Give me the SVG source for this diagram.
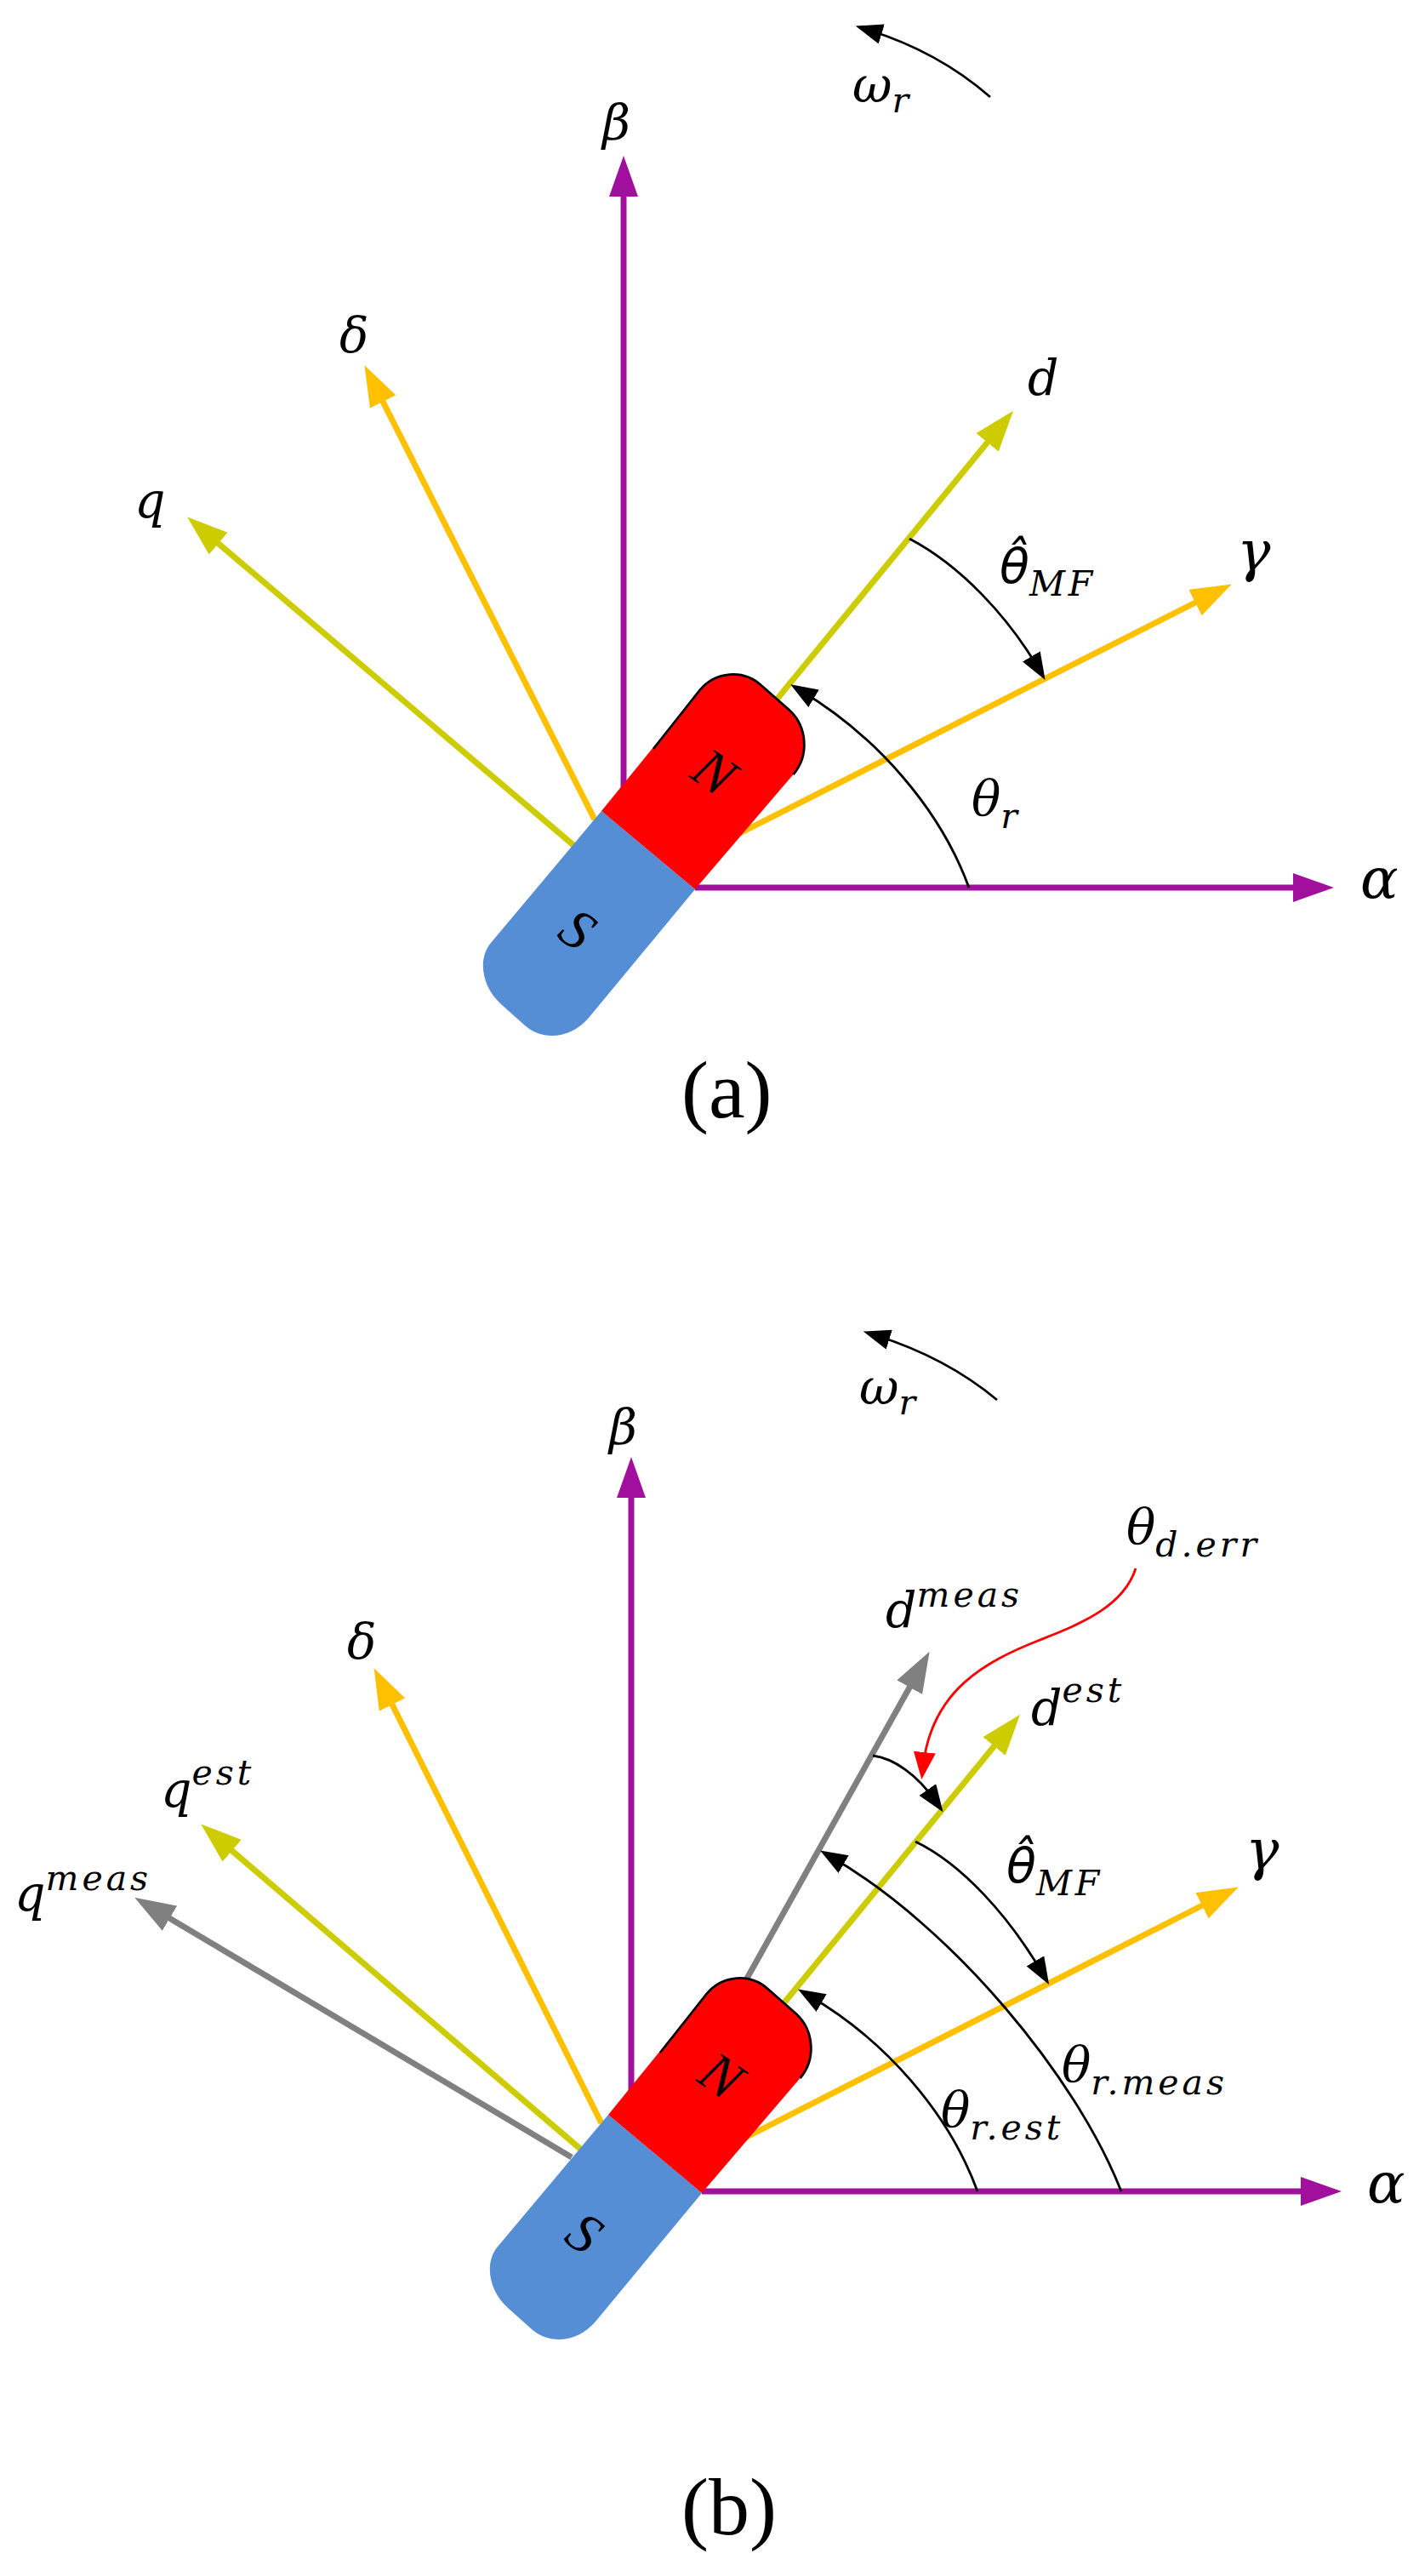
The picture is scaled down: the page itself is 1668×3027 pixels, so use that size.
<svg xmlns="http://www.w3.org/2000/svg" xmlns:xlink="http://www.w3.org/1999/xlink" width="1668" height="3027" viewBox="0 0 1668 3027">
<style>
.ax{fill:none;stroke-width:7}
.pu{stroke:#A0109C}.ol{stroke:#CCCC00}.am{stroke:#FFC000}.gr{stroke:#808080}
.arc{fill:none;stroke:#000;stroke-width:2.8}
.m{font-family:"DejaVu Serif","Liberation Serif",serif;font-style:italic;font-size:57px;fill:#000}
.s{font-size:41px;letter-spacing:4px}
.g{font-size:66px}
.h{font-family:"DejaVu Sans",sans-serif}
.c{font-family:"Liberation Serif",serif;font-size:96px;fill:#000}
.pole{font-family:"Liberation Serif",serif;font-style:italic;font-size:66px;fill:#000;text-anchor:middle}
</style>
<defs>
<marker id="hp" markerUnits="userSpaceOnUse" markerWidth="48" markerHeight="34" refX="18" refY="17" orient="auto"><path d="M0,0L48,17L0,34Z" fill="#A0109C"/></marker>
<marker id="ho" markerUnits="userSpaceOnUse" markerWidth="48" markerHeight="34" refX="18" refY="17" orient="auto"><path d="M0,0L48,17L0,34Z" fill="#CCCC00"/></marker>
<marker id="ha" markerUnits="userSpaceOnUse" markerWidth="48" markerHeight="34" refX="18" refY="17" orient="auto"><path d="M0,0L48,17L0,34Z" fill="#FFC000"/></marker>
<marker id="hg" markerUnits="userSpaceOnUse" markerWidth="48" markerHeight="34" refX="18" refY="17" orient="auto"><path d="M0,0L48,17L0,34Z" fill="#808080"/></marker>
<marker id="hk" markerUnits="userSpaceOnUse" markerWidth="32" markerHeight="24" refX="17" refY="12" orient="auto"><path d="M0,0L32,12L0,24Z" fill="#000"/></marker>
<marker id="hr" markerUnits="userSpaceOnUse" markerWidth="32" markerHeight="26" refX="17" refY="13" orient="auto"><path d="M0,0L32,13L0,26Z" fill="#FF0000"/></marker>
<g id="mag">
<path d="M707,953L577,1108C561,1127 566.5,1160 589,1180L617,1205C638,1224 672,1220 692,1196L817,1045Z" fill="#558ED5"/>
<path d="M707,953L822.5,811C841,788.6 874,786 895,805.5L928,834.5C949,854 951.4,888 932.5,910L817,1045Z" fill="#FF0000"/>
<path d="M768,880L822.5,811C841,788.6 874,786 895,805.5L928,834.5C949,854 951.4,888 932.5,910" fill="none" stroke="#000" stroke-width="2.8"/>
<text class="pole" transform="translate(840,907) rotate(35) translate(0,22)">N</text>
<text class="pole" transform="translate(679,1092) rotate(35) translate(0,22)">S</text>
</g>
</defs>
<rect width="1668" height="3027" fill="#fff"/>
<g id="connectors">
<g id="axes-a">
<path class="ax pu" d="M733,930V213" marker-end="url(#hp)"/>
<path class="ax pu" d="M817,1043H1538" marker-end="url(#hp)"/>
<path class="ax ol" d="M890,850L1172,506" marker-end="url(#ho)"/>
<path class="ax ol" d="M674,993L243,627" marker-end="url(#ho)"/>
<path class="ax am" d="M699,963L442,456" marker-end="url(#ha)"/>
<path class="ax am" d="M860,984L1421,700" marker-end="url(#ha)"/>
</g>
<g id="axes-b">
<path class="ax pu" d="M742,2460V1742" marker-end="url(#hp)"/>
<path class="ax pu" d="M825,2575H1547" marker-end="url(#hp)"/>
<path class="ax gr" d="M860,2357L1078,1967" marker-end="url(#hg)"/>
<path class="ax ol" d="M900,2380L1180,2038" marker-end="url(#ho)"/>
<path class="ax am" d="M860,2520L1429,2231" marker-end="url(#ha)"/>
<path class="ax am" d="M707,2495L453,1987" marker-end="url(#ha)"/>
<path class="ax ol" d="M682,2525L259,2163" marker-end="url(#ho)"/>
<path class="ax gr" d="M672,2535L184,2245" marker-end="url(#hg)"/>
</g>
</g>
<g id="magnet-a"><use href="#mag"/></g>
<g id="magnet-b"><use href="#mag" transform="translate(8,1532)"/></g>
<g id="arcs">
<path class="arc" d="M1139,1043C1105,950 1030,865 942,812" marker-end="url(#hk)"/>
<path class="arc" d="M1069,633C1130,665 1185,725 1221,786" marker-end="url(#hk)"/>
<path class="arc" d="M1164,114C1125,80 1075,52 1020,35" marker-end="url(#hk)"/>
<path class="arc" d="M1149,2575C1115,2482 1040,2397 951,2345" marker-end="url(#hk)"/>
<path class="arc" d="M1318,2575C1265,2440 1120,2265 977,2182" marker-end="url(#hk)"/>
<path class="arc" d="M1076,2164C1130,2190 1185,2250 1225.5,2319" marker-end="url(#hk)"/>
<path class="arc" d="M1026,2063C1050,2066 1078,2085 1100,2117" marker-end="url(#hk)"/>
<path class="arc" d="M1172,1645C1130,1610 1080,1585 1029,1569" marker-end="url(#hk)"/>
<path d="M1335,1843C1320,1890 1265,1910 1220,1928C1160,1952 1095,1985 1085,2076" fill="none" stroke="#FF0000" stroke-width="2.8" marker-end="url(#hr)"/>
</g>
<g id="labels-a">
<text class="m" x="1002" y="120">ω<tspan class="s" dy="12">r</tspan></text>
<text class="m" x="708" y="164">β</text>
<text class="m" x="399" y="414">δ</text>
<text class="m" x="158" y="608">q</text>
<text class="m" x="1208" y="464">d</text>
<text class="m g" x="1454" y="670">γ</text>
<text class="m" x="1175" y="685"><tspan class="h">θ̂</tspan><tspan class="s" dy="15">MF</tspan></text>
<text class="m" x="1142" y="958">θ<tspan class="s" dy="15">r</tspan></text>
<text class="m g" x="1599" y="1055">α</text>
<text class="c" x="801" y="1313">(a)</text>
</g>
<g id="labels-b">
<text class="m" x="1010" y="1650">ω<tspan class="s" dy="12">r</tspan></text>
<text class="m" x="716" y="1697">β</text>
<text class="m" x="408" y="1949">δ</text>
<text class="m" x="189" y="2123">q<tspan class="s" dy="-26">est</tspan></text>
<text class="m" x="17" y="2245">q<tspan class="s" dy="-24">meas</tspan></text>
<text class="m" x="1041" y="1912">d<tspan class="s" dy="-24">meas</tspan></text>
<text class="m" x="1324" y="1814">θ<tspan class="s" dy="15">d.err</tspan></text>
<text class="m" x="1212" y="2027">d<tspan class="s" dy="-27">est</tspan></text>
<text class="m" x="1183" y="2212"><tspan class="h">θ̂</tspan><tspan class="s" dy="15">MF</tspan></text>
<text class="m g" x="1464" y="2196">γ</text>
<text class="m" x="1106" y="2499">θ<tspan class="s" dy="15">r.est</tspan></text>
<text class="m" x="1248" y="2446">θ<tspan class="s" dy="15">r.meas</tspan></text>
<text class="m g" x="1607" y="2588">α</text>
<text class="c" x="801" y="2978">(b)</text>
</g>
</svg>
